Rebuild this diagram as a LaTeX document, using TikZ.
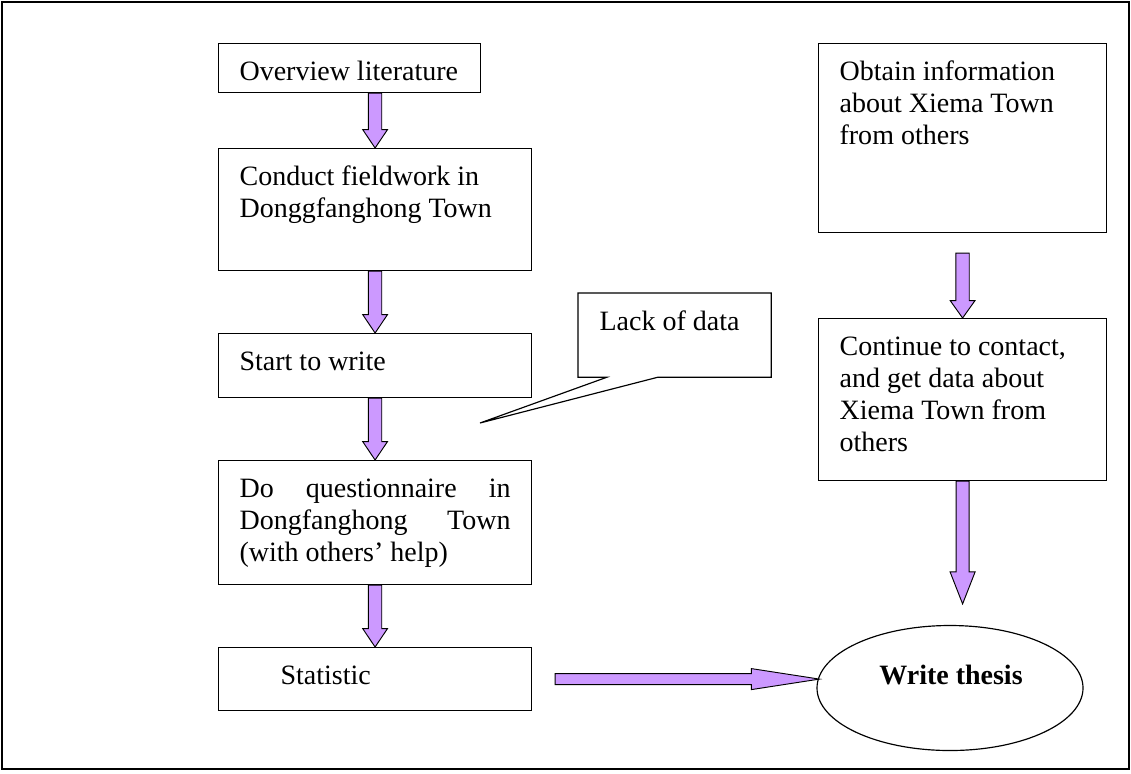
\documentclass[tikz,border=0pt]{standalone}
\usepackage{fontspec}
\setmainfont{Liberation Serif}
\usetikzlibrary{calc,shapes}
\tikzset{>=latex}
\definecolor{lilac}{RGB}{204,153,255}

% text set at the top of a box of fixed size
\newcommand{\boxtext}[3]{\parbox[c][#2][t]{#1}{\vspace*{0.45cm}\strut #3}}

% fat arrows: start, end, half shaft, half head, head length
\newcommand{\fatdown}[5]{%
  \draw[fat] let \p1=#1, \p2=#2 in
    (\x1-#3,\y1) -- (\x1-#3,\y2+#5) -- (\x1-#4,\y2+#5) -- (\x1,\y2)
    -- (\x1+#4,\y2+#5) -- (\x1+#3,\y2+#5) -- (\x1+#3,\y1) -- cycle;}
\newcommand{\fatright}[5]{%
  \draw[fat] let \p1=#1, \p2=#2 in
    (\x1,\y1+#3) -- (\x2-#5,\y1+#3) -- (\x2-#5,\y1+#4) -- (\x2,\y1)
    -- (\x2-#5,\y1-#4) -- (\x2-#5,\y1-#3) -- (\x1,\y1-#3) -- cycle;}

\begin{document}
\begin{tikzpicture}[x=0.03cm, y=-0.03cm,
  box/.style = {draw, line width=1pt, anchor=north west, inner xsep=0.63cm, inner ysep=0pt,
                font=\fontsize{23.9}{27.3}\selectfont},
  fat/.style = {draw, fill=lilac, line width=0.8pt, line join=miter}]
\useasboundingbox (0,0) rectangle (1131,773);
\draw[line width=1.6pt] (2,2) rectangle (1129,769);

% left column
\node[box] (ov) at (218,43) {\boxtext{6.6cm}{1.47cm}{Overview literature}};
\node[box] (cond) at (218,148) {\boxtext{8.13cm}{3.66cm}{Conduct fieldwork in\\Donggfanghong Town}};
\node[box] (start) at (218,333) {\boxtext{8.13cm}{1.92cm}{Start to write}};
\node[box] (quest) at (218,460) {\boxtext{8.13cm}{3.72cm}{Do\hfill questionnaire\hfill in\\Dongfanghong\hfill Town\\(with others’ help)}};
\node[box] (stat) at (218,647) {\boxtext{8.13cm}{1.89cm}{\hspace*{1.23cm}Statistic}};

% callout
\node[box, draw=none] (lack) at (578,293) {\boxtext{4.5cm}{2.49cm}{Lack of data}};
\coordinate (tip) at (480,423);
\draw[line width=1pt] ($(lack.south west)+(29,0)$) -- (lack.south west) -- (lack.north west)
  -- (lack.north east) -- (lack.south east) -- ($(lack.south west)+(80,0)$) -- (tip) -- cycle;

% right column
\node[box] (obt) at (818,43) {\boxtext{7.38cm}{5.67cm}{Obtain information\\about Xiema Town\\from others}};
\node[box] (cont) at (818,318) {\boxtext{7.38cm}{4.86cm}{Continue to contact,\\and get data about\\Xiema Town from\\others}};
\node[draw, ellipse, line width=1pt, minimum width=7.98cm, minimum height=3.75cm, inner sep=0pt] (thesis) at (950,688) {};
\node[font=\fontsize{23.9}{27.3}\selectfont\bfseries] (thesislbl) at (951,675) {Write thesis};

% arrows
\fatdown{(cond.north |- ov.south)}{(cond.north)}{0.2cm}{0.37cm}{0.55cm}
\fatdown{(cond.south)}{(start.north)}{0.2cm}{0.37cm}{0.55cm}
\fatdown{(start.south)}{(quest.north)}{0.2cm}{0.37cm}{0.55cm}
\fatdown{(quest.south)}{(stat.north)}{0.2cm}{0.37cm}{0.55cm}
\fatdown{($(obt.south)+(0,20)$)}{(cont.north)}{0.2cm}{0.37cm}{0.52cm}
\fatdown{(cont.south)}{($(thesis.north)+(0,-21)$)}{0.195cm}{0.375cm}{0.96cm}
\fatright{($(stat.east)+(23,0)$)}{($(thesis.west)+(3,0)$)}{0.165cm}{0.315cm}{2.04cm}

\end{tikzpicture}
\end{document}
